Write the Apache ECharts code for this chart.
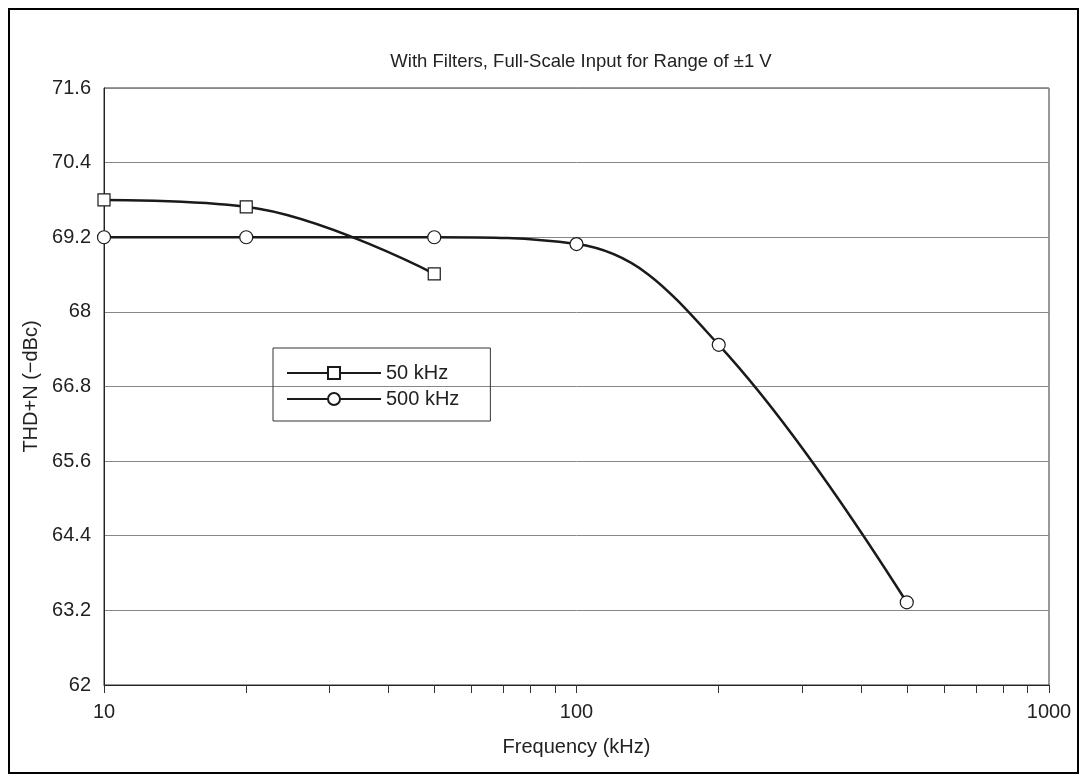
<!DOCTYPE html>
<html>
<head>
<meta charset="utf-8">
<script src="https://cdn.jsdelivr.net/npm/echarts@6/dist/echarts.min.js"></script>
<style>
  html, body { margin: 0; padding: 0; background: #fff; }
  #chart { width: 1087px; height: 782px; }
</style>
</head>
<body>
<div id="chart"></div>
<script>
// frequencies in kHz
const freq50 = [10, 20, 50];
const thd50 = [69.8, 69.69, 68.61];
const freq500 = [10, 20, 50, 100, 200, 500];
const thd500 = [69.2, 69.2, 69.2, 69.09, 67.47, 63.33];
const xTicks = [10, 20, 30, 40, 50, 60, 70, 80, 90, 100, 200, 300, 400, 500, 600, 700, 800, 900, 1000];
const xLabels = [10, 100, 1000];

const font = "'Liberation Sans', Arial, sans-serif";
const lineColor = "#1a1a1a";

const chart = echarts.init(document.getElementById("chart"));

function pairs(xs, ys) {
  return xs.map((x, i) => [x, ys[i]]);
}

chart.setOption({
  animation: false,
  title: {
    text: "With Filters, Full-Scale Input for Range of \u00b11 V",
    left: 576,
    textAlign: "center",
    top: 47,
    textStyle: { fontFamily: font, fontSize: 18.5, fontWeight: "normal", color: "#222" }
  },
  graphic: [
    {
      type: "rect",
      shape: { x: 9, y: 9, width: 1069, height: 764 },
      style: { fill: "none", stroke: "#000", lineWidth: 2 }
    }
  ],
  grid: {
    left: 104,
    right: 38,
    top: 88,
    bottom: 97,
    show: true,
    borderColor: "#333",
    borderWidth: 1
  },
  legend: {
    orient: "vertical",
    left: 273,
    top: 348,
    borderColor: "#333",
    borderWidth: 1,
    padding: [15, 31, 12, 13],
    itemWidth: 94,
    itemHeight: 15,
    itemGap: 6,
    textStyle: { fontFamily: font, fontSize: 20, color: "#222" },
    data: ["50 kHz", "500 kHz"]
  },
  xAxis: {
    type: "log",
    logBase: 10,
    min: 10,
    max: 1000,
    name: "Frequency (kHz)",
    nameLocation: "middle",
    nameGap: 52,
    nameTextStyle: { fontFamily: font, fontSize: 20, color: "#222" },
    axisLine: { lineStyle: { color: "#222", width: 1 } },
    axisTick: {
      inside: false,
      length: 8,
      lineStyle: { color: "#333" },
      customValues: xTicks
    },
    axisLabel: {
      customValues: xLabels,
      fontFamily: font,
      fontSize: 20,
      color: "#222",
      margin: 17,
      formatter: v => String(Math.round(v))
    },
    splitLine: { show: false },
    minorTick: { show: false }
  },
  yAxis: {
    type: "value",
    min: 62,
    max: 71.6,
    interval: 1.2,
    name: "THD+N (\u2212dBc)",
    nameLocation: "middle",
    nameGap: 62,
    nameTextStyle: { fontFamily: font, fontSize: 20, color: "#222" },
    axisLine: { show: true, lineStyle: { color: "#222", width: 1 } },
    axisTick: { show: false },
    axisLabel: {
      fontFamily: font,
      fontSize: 20,
      color: "#222",
      margin: 13,
      formatter: v => String(+v.toFixed(1))
    },
    splitLine: { show: true, lineStyle: { color: "#888", width: 1 } }
  },
  series: [
    {
      name: "50 kHz",
      type: "line",
      smooth: 0.4,
      data: pairs(freq50, thd50),
      symbol: "rect",
      symbolSize: 12,
      lineStyle: { color: lineColor, width: 2.5 },
      itemStyle: { color: "#fff", borderColor: lineColor, borderWidth: 1.2 },
      z: 3
    },
    {
      name: "500 kHz",
      type: "line",
      smooth: 0.4,
      data: pairs(freq500, thd500),
      symbol: "circle",
      symbolSize: 13,
      lineStyle: { color: lineColor, width: 2.5 },
      itemStyle: { color: "#fff", borderColor: lineColor, borderWidth: 1.2 },
      z: 3
    }
  ]
});
</script>
</body>
</html>
